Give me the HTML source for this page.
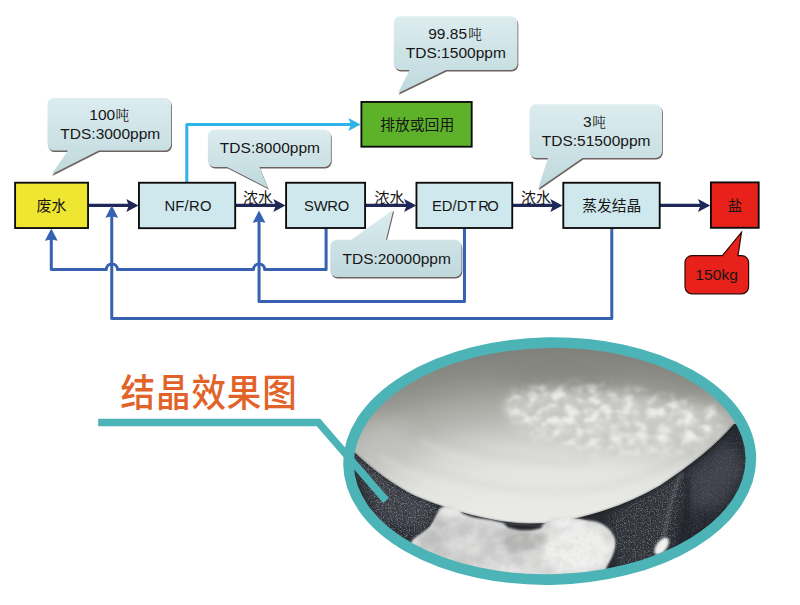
<!DOCTYPE html>
<html lang="zh">
<head>
<meta charset="utf-8">
<title>废水零排放工艺流程 - 结晶效果图</title>
<style>
html,body{margin:0;padding:0;background:#ffffff;}
body{width:800px;height:605px;overflow:hidden;font-family:"Liberation Sans","Noto Sans CJK SC",sans-serif;}
svg{display:block;}
svg text{font-family:"Liberation Sans","Noto Sans CJK SC",sans-serif;}
</style>
</head>
<body>
<svg width="800" height="605" viewBox="0 0 800 605">
<defs>
<clipPath id="ec"><ellipse cx="549.7" cy="461.1" rx="201.2" ry="118.5" transform="rotate(-1 549.7 461.1)"/></clipPath>
<radialGradient id="slurry" gradientUnits="userSpaceOnUse" cx="560" cy="600" r="255" gradientTransform="translate(560 600) scale(1.8 1) translate(-560 -600)"><stop offset="0" stop-color="#ecece9"/><stop offset="0.40" stop-color="#e9e9e6"/><stop offset="0.52" stop-color="#e3e3e0"/><stop offset="0.61" stop-color="#d6d6d2"/><stop offset="0.67" stop-color="#c6c6c2"/><stop offset="0.72" stop-color="#b7b7b3"/><stop offset="0.78" stop-color="#ababa6"/><stop offset="0.85" stop-color="#989893"/><stop offset="0.90" stop-color="#8d8d88"/><stop offset="0.95" stop-color="#868681"/><stop offset="1" stop-color="#7f7f7a"/></radialGradient>
<filter id="b3" x="-30%" y="-30%" width="160%" height="160%"><feGaussianBlur stdDeviation="3"/></filter>
<filter id="b6" x="-30%" y="-30%" width="160%" height="160%"><feGaussianBlur stdDeviation="6"/></filter>
<filter id="b12" x="-40%" y="-40%" width="180%" height="180%"><feGaussianBlur stdDeviation="12"/></filter>
<filter id="b1" x="-10%" y="-10%" width="120%" height="120%"><feGaussianBlur stdDeviation="0.8"/></filter>
<filter id="b2" x="-20%" y="-20%" width="140%" height="140%"><feGaussianBlur stdDeviation="1.6"/></filter>
<filter id="spk" x="0" y="0" width="100%" height="100%"><feTurbulence type="fractalNoise" baseFrequency="0.85" numOctaves="2" seed="11" result="n"/><feColorMatrix in="n" type="matrix" values="0 0 0 0 0.50  0 0 0 0 0.52  0 0 0 0 0.56  2.2 2.0 0 0 -2.0"/></filter>
<filter id="grn" x="0" y="0" width="100%" height="100%"><feTurbulence type="fractalNoise" baseFrequency="0.3" numOctaves="2" seed="3" result="n"/><feColorMatrix in="n" type="matrix" values="0 0 0 0 0.5  0 0 0 0 0.5  0 0 0 0 0.5  1.4 1.4 0 0 -1.25"/></filter>
<mask id="mk1" maskUnits="userSpaceOnUse" x="330" y="400" width="440" height="200"><g filter="url(#b3)"><path d="M345 440 L480 520 L450 575 L380 535 Z" fill="#fff" fill-opacity="0.5"/><path d="M606 518 L690 468 L682 500 L668 566 L620 570 Z" fill="#fff" fill-opacity="0.45"/><path d="M690 468 L745 420 L765 470 L725 520 L668 566 L682 500 Z" fill="#fff" fill-opacity="0.18"/></g></mask>
<clipPath id="slc"><path d="M330 330 H770 V424 L734 424 C716 445 691 465 660 485.5 C630 503 600 513 570 519.5 C548 524 525 525.5 498 520.5 C470 515.5 444 508 414.4 495.6 C394 485 372 469 354 452 L330 440 Z"/></clipPath>
<filter id="lumpH" x="0" y="0" width="100%" height="100%"><feTurbulence type="fractalNoise" baseFrequency="0.085 0.12" numOctaves="2" seed="4"/><feColorMatrix type="matrix" values="0 0 0 0 0.92  0 0 0 0 0.92  0 0 0 0 0.91  3.4 0 0 0 -1.5"/><feGaussianBlur stdDeviation="1.3"/></filter>
<filter id="lumpS" x="0" y="0" width="100%" height="100%"><feTurbulence type="fractalNoise" baseFrequency="0.085 0.12" numOctaves="2" seed="4"/><feColorMatrix type="matrix" values="0 0 0 0 0.50  0 0 0 0 0.50  0 0 0 0 0.48  -3.4 0 0 0 1.62"/><feGaussianBlur stdDeviation="1.3"/></filter>
<mask id="mk2" maskUnits="userSpaceOnUse" x="480" y="360" width="270" height="110"><g filter="url(#b6)"><path d="M514 392 C560 378 640 388 716 408 C732 420 718 440 692 450 C640 458 570 450 530 434 C507 424 500 402 514 392 Z" fill="#fff"/></g></mask>
<clipPath id="lpc"><path d="M405 552 L413.5 539 C420 534 426 531 430 527 C434 522 436 516 438.3 511.5 C440 508 442 507 444.2 506.5 C448 505.5 452 506 456 507.5 C459 509 461 511 462 513.4 C466 515 470 516.5 474 517.4 C480 518.5 486 519 491 520 C497 521 502 523 508 524 L539.5 526.5 C544 524 548 520 553 518 C560 516 572 518 582 519.5 C590 521 596 521 600 523 C607 526 612 531 614.5 538 C617 546 613 556 607 566 L600 585 L560 600 L440 600 Z"/></clipPath>
<linearGradient id="cg" x1="0" y1="0" x2="0" y2="1"><stop offset="0" stop-color="#dcecef"/><stop offset="1" stop-color="#bfd9dd"/></linearGradient>
<filter id="sh" x="-10%" y="-10%" width="120%" height="130%"><feGaussianBlur stdDeviation="0.75"/></filter>
</defs>
<g fill="none" stroke-linejoin="round">
<path d="M186.8 182 V124.4 H352" stroke="#2eb5e7" stroke-width="3" stroke-linejoin="round"/>
<g stroke="#3762b2" stroke-width="3">
<path d="M326.1 228 V269.5 H264.7 A5.6 5.6 0 0 0 253.5 269.5 H117.5 A5.6 5.6 0 0 0 106.3 269.5 H51.3 V238"/>
<path d="M464.45 228 V301.4 H259.05 V220"/>
<path d="M611.8 228 V318.45 H111.75 V216"/>
</g>
<g stroke="#1f2759" stroke-width="3.2">
<path d="M88 205.4 H130"/>
<path d="M235 205.4 H277"/>
<path d="M365 205.4 H408"/>
<path d="M512.5 205.4 H554"/>
<path d="M660 205.4 H702"/>
</g></g>
<path d="M138.50 205.40 L126.30 198.90 L128.80 205.40 L126.30 211.90 Z" fill="#1f2759"/>
<path d="M285.50 205.40 L273.30 198.90 L275.80 205.40 L273.30 211.90 Z" fill="#1f2759"/>
<path d="M416.30 205.40 L404.10 198.90 L406.60 205.40 L404.10 211.90 Z" fill="#1f2759"/>
<path d="M562.50 205.40 L550.30 198.90 L552.80 205.40 L550.30 211.90 Z" fill="#1f2759"/>
<path d="M710.20 205.40 L698.00 198.90 L700.50 205.40 L698.00 211.90 Z" fill="#1f2759"/>
<path d="M360.60 124.40 L348.40 117.90 L350.90 124.40 L348.40 130.90 Z" fill="#2eb5e7"/>
<path d="M51.30 228.60 L44.90 240.80 L51.30 239.60 L57.70 240.80 Z" fill="#3762b2"/>
<path d="M111.75 205.60 L105.35 217.80 L111.75 216.60 L118.15 217.80 Z" fill="#3762b2"/>
<path d="M259.05 210.60 L252.65 222.80 L259.05 221.60 L265.45 222.80 Z" fill="#3762b2"/>
<rect x="15.10" y="182.70" width="72.95" height="45.35" fill="#efe631" stroke="#0b0b0b" stroke-width="1.85"/>
<rect x="138.95" y="182.75" width="96.25" height="45.45" fill="#cfe8ee" stroke="#0b0b0b" stroke-width="1.85"/>
<rect x="286.10" y="182.75" width="79.00" height="45.25" fill="#cfe8ee" stroke="#0b0b0b" stroke-width="1.85"/>
<rect x="416.45" y="182.75" width="95.80" height="45.25" fill="#cfe8ee" stroke="#0b0b0b" stroke-width="1.85"/>
<rect x="563.30" y="182.75" width="96.40" height="45.25" fill="#cfe8ee" stroke="#0b0b0b" stroke-width="1.85"/>
<rect x="710.90" y="182.40" width="47.80" height="45.40" fill="#e8211a" stroke="#0b0b0b" stroke-width="1.85"/>
<rect x="361.40" y="101.95" width="110.30" height="44.75" fill="#5db22a" stroke="#0b0b0b" stroke-width="1.85"/>
<text x="36.60" y="211.00" font-size="15" fill="#161616">废水</text>
<text x="164.40" y="210.60" font-size="14.80" textLength="47.00" lengthAdjust="spacing" fill="#161616">NF/RO</text>
<text x="304.10" y="210.60" font-size="14.80" textLength="45.10" lengthAdjust="spacing" fill="#161616">SWRO</text>
<text x="431.90" y="210.60" font-size="14.80" textLength="44.60" lengthAdjust="spacing" fill="#161616">ED/DT</text>
<text x="478.30" y="210.60" font-size="14.80" textLength="20.40" lengthAdjust="spacing" fill="#161616">RO</text>
<text x="582.20" y="211.00" font-size="14.8" fill="#161616">蒸发结晶</text>
<text x="727.75" y="210.80" font-size="14.5" fill="#161616">盐</text>
<text x="380.20" y="129.60" font-size="14.8" fill="#161616">排放或回用</text>
<path d="M54.00 97.90 H164.70 A6.5 6.5 0 0 1 171.20 104.40 V144.10 A6.5 6.5 0 0 1 164.70 150.60 H98.80 L51.40 174.40 L68.00 150.60 H54.00 A6.5 6.5 0 0 1 47.50 144.10 V104.40 A6.5 6.5 0 0 1 54.00 97.90 Z" fill="#4a3b38" opacity="0.8" transform="translate(0.8 1.5)" filter="url(#sh)"/>
<path d="M54.00 97.90 H164.70 A6.5 6.5 0 0 1 171.20 104.40 V144.10 A6.5 6.5 0 0 1 164.70 150.60 H98.80 L51.40 174.40 L68.00 150.60 H54.00 A6.5 6.5 0 0 1 47.50 144.10 V104.40 A6.5 6.5 0 0 1 54.00 97.90 Z" fill="url(#cg)"/>
<path d="M214.40 129.60 H324.40 A6.5 6.5 0 0 1 330.90 136.10 V160.40 A6.5 6.5 0 0 1 324.40 166.90 H259.50 L267.90 187.90 L227.00 166.90 H214.40 A6.5 6.5 0 0 1 207.90 160.40 V136.10 A6.5 6.5 0 0 1 214.40 129.60 Z" fill="#4a3b38" opacity="0.8" transform="translate(0.8 1.5)" filter="url(#sh)"/>
<path d="M214.40 129.60 H324.40 A6.5 6.5 0 0 1 330.90 136.10 V160.40 A6.5 6.5 0 0 1 324.40 166.90 H259.50 L267.90 187.90 L227.00 166.90 H214.40 A6.5 6.5 0 0 1 207.90 160.40 V136.10 A6.5 6.5 0 0 1 214.40 129.60 Z" fill="url(#cg)"/>
<path d="M400.30 16.30 H511.00 A6.5 6.5 0 0 1 517.50 22.80 V63.50 A6.5 6.5 0 0 1 511.00 70.00 H446.00 L398.00 93.20 L409.50 70.00 H400.30 A6.5 6.5 0 0 1 393.80 63.50 V22.80 A6.5 6.5 0 0 1 400.30 16.30 Z" fill="#4a3b38" opacity="0.8" transform="translate(0.8 1.5)" filter="url(#sh)"/>
<path d="M400.30 16.30 H511.00 A6.5 6.5 0 0 1 517.50 22.80 V63.50 A6.5 6.5 0 0 1 511.00 70.00 H446.00 L398.00 93.20 L409.50 70.00 H400.30 A6.5 6.5 0 0 1 393.80 63.50 V22.80 A6.5 6.5 0 0 1 400.30 16.30 Z" fill="url(#cg)"/>
<path d="M536.00 104.30 H655.50 A6.5 6.5 0 0 1 662.00 110.80 V151.50 A6.5 6.5 0 0 1 655.50 158.00 H582.50 L538.00 188.80 L548.00 158.00 H536.00 A6.5 6.5 0 0 1 529.50 151.50 V110.80 A6.5 6.5 0 0 1 536.00 104.30 Z" fill="#4a3b38" opacity="0.8" transform="translate(0.8 1.5)" filter="url(#sh)"/>
<path d="M536.00 104.30 H655.50 A6.5 6.5 0 0 1 662.00 110.80 V151.50 A6.5 6.5 0 0 1 655.50 158.00 H582.50 L538.00 188.80 L548.00 158.00 H536.00 A6.5 6.5 0 0 1 529.50 151.50 V110.80 A6.5 6.5 0 0 1 536.00 104.30 Z" fill="url(#cg)"/>
<path d="M336.80 239.80 H351.30 L393.40 209.40 L386.00 239.80 H455.00 A6.5 6.5 0 0 1 461.50 246.30 V270.40 A6.5 6.5 0 0 1 455.00 276.90 H336.80 A6.5 6.5 0 0 1 330.30 270.40 V246.30 A6.5 6.5 0 0 1 336.80 239.80 Z" fill="#4a3b38" opacity="0.8" transform="translate(0.8 1.5)" filter="url(#sh)"/>
<path d="M336.80 239.80 H351.30 L393.40 209.40 L386.00 239.80 H455.00 A6.5 6.5 0 0 1 461.50 246.30 V270.40 A6.5 6.5 0 0 1 455.00 276.90 H336.80 A6.5 6.5 0 0 1 330.30 270.40 V246.30 A6.5 6.5 0 0 1 336.80 239.80 Z" fill="url(#cg)"/>
<text x="243.00" y="202.60" font-size="15" fill="#161616">浓水</text>
<text x="374.50" y="202.60" font-size="15" fill="#161616">浓水</text>
<text x="521.00" y="202.60" font-size="15" fill="#161616">浓水</text>
<text x="89.30" y="120.00" font-size="15.50" textLength="25.85" lengthAdjust="spacing" fill="#161616">100</text>
<text x="115.60" y="119.60" font-size="13.6" fill="#161616" style="font-family:'Liberation Serif','Noto Serif CJK SC',serif;">吨</text>
<text x="60.35" y="138.90" font-size="15.50" textLength="99.90" lengthAdjust="spacing" fill="#161616">TDS:3000ppm</text>
<text x="219.80" y="153.30" font-size="15.50" textLength="100.20" lengthAdjust="spacing" fill="#161616">TDS:8000ppm</text>
<text x="428.20" y="38.90" font-size="15.50" textLength="38.80" lengthAdjust="spacing" fill="#161616">99.85</text>
<text x="468.20" y="38.50" font-size="13.6" fill="#161616" style="font-family:'Liberation Serif','Noto Serif CJK SC',serif;">吨</text>
<text x="405.70" y="57.90" font-size="15.50" textLength="100.20" lengthAdjust="spacing" fill="#161616">TDS:1500ppm</text>
<text x="583.10" y="127.20" font-size="15.50" textLength="8.62" lengthAdjust="spacing" fill="#161616">3</text>
<text x="592.20" y="126.80" font-size="13.6" fill="#161616" style="font-family:'Liberation Serif','Noto Serif CJK SC',serif;">吨</text>
<text x="541.70" y="146.20" font-size="15.50" textLength="108.80" lengthAdjust="spacing" fill="#161616">TDS:51500ppm</text>
<text x="342.50" y="263.80" font-size="15.50" textLength="108.40" lengthAdjust="spacing" fill="#161616">TDS:20000ppm</text>
<path d="M692.00 255.60 H722.40 L741.50 232.20 L738.00 255.60 H741.60 A7 7 0 0 1 748.60 262.60 V286.80 A7 7 0 0 1 741.60 293.80 H692.00 A7 7 0 0 1 685.00 286.80 V262.60 A7 7 0 0 1 692.00 255.60 Z" fill="#e8211a" stroke="#2a0907" stroke-width="1.2"/>
<text x="695.30" y="280.20" font-size="15.50" textLength="42.60" lengthAdjust="spacing" fill="#161616">150kg</text>
<text transform="translate(120.60 405.80) scale(0.9176 1)" x="0" y="0" font-size="37.6" font-weight="500" letter-spacing="0.98" fill="#e2632a">结晶效果图</text>
<g clip-path="url(#ec)">
<rect x="330" y="330" width="440" height="270" fill="#272a31"/>
<g filter="url(#b6)">
<path d="M348 446 L400 486 L440 506 L420 530 L380 520 Z" fill="#3a3d44"/>
<path d="M440 508 L470 518 L450 545 L425 535 Z" fill="#23262c"/>
<path d="M612 512 L684 470 L676 505 L664 560 L620 566 Z" fill="#2f3239"/>
<path d="M690 474 L730 440 L745 470 L720 505 L690 510 Z" fill="#3c4049"/>
<path d="M680 540 L740 500 L760 470 L760 560 L660 590 Z" fill="#21242b"/>
<path d="M718 436 L742 418 L752 440 L738 452 Z" fill="#23262d"/>
</g>
<rect x="330" y="400" width="440" height="200" filter="url(#spk)" mask="url(#mk1)"/>
<path d="M682 472 C674 490 668 512 664 536" fill="none" stroke="#7b8089" stroke-width="3" opacity="0.5" filter="url(#b2)"/>
<path d="M686 474 C690 500 688 520 680 548" fill="none" stroke="#191c22" stroke-width="5" opacity="0.5" filter="url(#b3)"/>
<ellipse cx="661.6" cy="546.2" rx="10" ry="5.2" transform="rotate(-54 661.6 546.2)" fill="#f0f0f0" filter="url(#b1)"/>
<path d="M330 330 H770 V424 L734 424 C716 445 691 465 660 485.5 C630 503 600 513 570 519.5 C548 524 525 525.5 498 520.5 C470 515.5 444 508 414.4 495.6 C394 485 372 469 354 452 L330 440 Z" fill="url(#slurry)"/>
<g clip-path="url(#slc)">
<ellipse cx="382" cy="446" rx="30" ry="22" fill="#c6c6c2" opacity="0.7" filter="url(#b12)"/>
<ellipse cx="705" cy="426" rx="34" ry="20" fill="#cacac6" opacity="0.6" filter="url(#b12)"/>
<ellipse cx="558" cy="366" rx="62" ry="20" fill="#83847e" opacity="0.6" filter="url(#b12)"/>
<path d="M512 396 C560 384 640 394 712 412 C728 424 715 442 690 452 C640 460 570 452 530 436 C505 426 498 406 512 396 Z" fill="#d2d2cf" opacity="0.8" filter="url(#b6)"/>
<g fill="none" stroke="#bdbdb9" stroke-width="4" opacity="0.28" filter="url(#b3)">
<path d="M372 440 C430 478 520 500 600 488 C650 478 700 452 730 422"/>
<path d="M395 416 C450 450 520 466 590 462"/>
</g>
<g fill="none" stroke="#e8e8e6" stroke-width="4" opacity="0.4" filter="url(#b3)">
<path d="M380 456 C440 494 520 510 600 498 C650 488 700 460 728 432"/>
<path d="M420 440 C470 468 540 480 610 472"/>
</g>
<g mask="url(#mk2)">
<rect x="480" y="360" width="270" height="110" filter="url(#lumpS)" opacity="0.55" transform="translate(0.6 2.2)"/>
<rect x="480" y="360" width="270" height="110" filter="url(#lumpH)" opacity="0.8"/>
</g>
</g>
<path d="M734 424 C716 445 691 465 660 485.5 C630 503 600 513 570 519.5 C548 524 525 525.5 498 520.5 C470 515.5 444 508 414.4 495.6 C394 485 372 469 354 452" fill="none" stroke="#15181d" stroke-width="1.4" opacity="0.5" filter="url(#b1)" transform="translate(0 0.8)"/>
<path d="M405 552 L413.5 539 C420 534 426 531 430 527 C434 522 436 516 438.3 511.5 C440 508 442 507 444.2 506.5 C448 505.5 452 506 456 507.5 C459 509 461 511 462 513.4 C466 515 470 516.5 474 517.4 C480 518.5 486 519 491 520 C497 521 502 523 508 524 L539.5 526.5 C544 524 548 520 553 518 C560 516 572 518 582 519.5 C590 521 596 521 600 523 C607 526 612 531 614.5 538 C617 546 613 556 607 566 L600 585 L560 600 L440 600 Z" fill="#dcdcdb" filter="url(#b1)"/>
<g clip-path="url(#lpc)">
<g filter="url(#b3)">
<path d="M405 560 L436 514 L470 520 L500 528 L505 600 L405 600 Z" fill="#c6c6c5" opacity="0.75"/>
<ellipse cx="523" cy="541" rx="24" ry="12" fill="#a9a9a8" opacity="0.75"/>
<path d="M500 530 L512 562 L524 566 L510 528 Z" fill="#b2b2b1" opacity="0.5"/>
<path d="M415 545 L436 516 L446 524 L436 560 Z" fill="#b4b4b3" opacity="0.5"/>
<ellipse cx="451" cy="513" rx="9" ry="4.5" fill="#ededed"/>
<ellipse cx="468" cy="545" rx="14" ry="9" fill="#e0e0df" opacity="0.8"/>
<ellipse cx="568" cy="523" rx="16" ry="4.5" fill="#f3f3f3"/>
<ellipse cx="578" cy="550" rx="34" ry="22" fill="#efefee"/>
<ellipse cx="500" cy="572" rx="30" ry="8" fill="#e4e4e3" opacity="0.8"/>
</g>
<g opacity="0.5"><rect x="400" y="500" width="230" height="100" filter="url(#lumpS)" opacity="0.5" transform="translate(0.5 1.5)"/>
<rect x="400" y="500" width="230" height="100" filter="url(#lumpH)" opacity="0.6"/></g>
<rect x="400" y="500" width="230" height="100" filter="url(#grn)" opacity="0.18"/>
</g>
<path d="M503 522.5 L543 525.5 L541 528 C534 530.5 524 531 516 529.5 L508 527.5 Z" fill="#25282e" filter="url(#b1)"/>
</g>
<ellipse cx="549.7" cy="461.1" rx="201.2" ry="118.5" transform="rotate(-1 549.7 461.1)" fill="none" stroke="#4cb3b6" stroke-width="10.6"/>
<path d="M98.2 422.5 H318.5 L386 500.5" fill="none" stroke="#4cb3b6" stroke-width="7.4"/>
</svg>
</body>
</html>
